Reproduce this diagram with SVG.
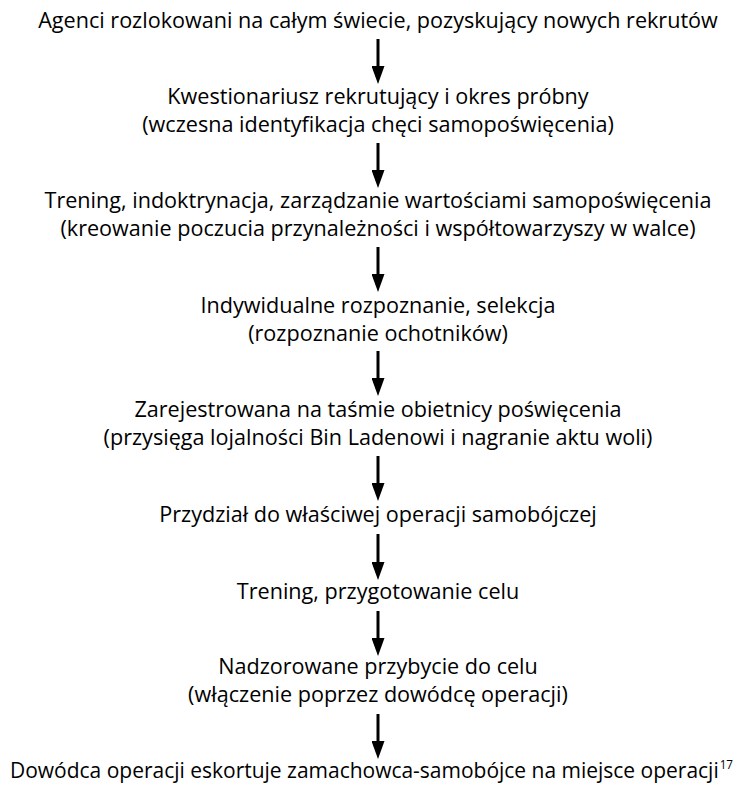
<svg xmlns="http://www.w3.org/2000/svg" width="752" height="785" viewBox="0 0 752 785">
<defs>
<style>
text{font-family:"Open Sans","Noto Sans","Liberation Sans",sans-serif;font-size:21.6px;fill:#000;text-anchor:middle}
.c line{stroke:#000;stroke-width:3}
</style>
<marker id="ah" viewBox="0 0 18 13" refX="0" refY="6.5" markerWidth="18" markerHeight="13" markerUnits="userSpaceOnUse" orient="auto">
<path d="M0,0 L18,6.5 L0,13 Z" fill="#000"/>
</marker>
</defs>
<rect width="752" height="785" fill="#fff"/>
<g id="n1"><text x="378" y="28">Agenci rozlokowani na całym świecie, pozyskujący nowych rekrutów</text></g>
<g id="n2"><text x="378" y="104">Kwestionariusz rekrutujący i okres próbny</text><text x="378" y="132">(wczesna identyfikacja chęci samopoświęcenia)</text></g>
<g id="n3"><text x="378" y="208">Trening, indoktrynacja, zarządzanie wartościami samopoświęcenia</text><text x="378" y="236">(kreowanie poczucia przynależności i współtowarzyszy w walce)</text></g>
<g id="n4"><text x="378" y="313">Indywidualne rozpoznanie, selekcja</text><text x="378" y="341">(rozpoznanie ochotników)</text></g>
<g id="n5"><text x="378" y="417">Zarejestrowana na taśmie obietnicy poświęcenia</text><text x="378" y="445">(przysięga lojalności Bin Ladenowi i nagranie aktu woli)</text></g>
<g id="n6"><text x="378" y="522">Przydział do właściwej operacji samobójczej</text></g>
<g id="n7"><text x="378" y="599">Trening, przygotowanie celu</text></g>
<g id="n8"><text x="378" y="674">Nadzorowane przybycie do celu</text><text x="378" y="702">(włączenie poprzez dowódcę operacji)</text></g>
<g id="n9"><text x="10" y="778" style="text-anchor:start" textLength="723" lengthAdjust="spacingAndGlyphs">Dowódca operacji eskortuje zamachowca-samobójce na miejsce operacji<tspan style="font-size:12px" dx="1" dy="-9">17</tspan></text></g>
<g id="connectors" class="c">
<line x1="378" y1="39" x2="378" y2="66" marker-end="url(#ah)"/>
<line x1="378" y1="143" x2="378" y2="170" marker-end="url(#ah)"/>
<line x1="378" y1="247" x2="378" y2="274" marker-end="url(#ah)"/>
<line x1="378" y1="351" x2="378" y2="378" marker-end="url(#ah)"/>
<line x1="378" y1="456" x2="378" y2="483" marker-end="url(#ah)"/>
<line x1="378" y1="534" x2="378" y2="562" marker-end="url(#ah)"/>
<line x1="378" y1="611" x2="378" y2="638" marker-end="url(#ah)"/>
<line x1="378" y1="714" x2="378" y2="741" marker-end="url(#ah)"/>
</g>
</svg>
